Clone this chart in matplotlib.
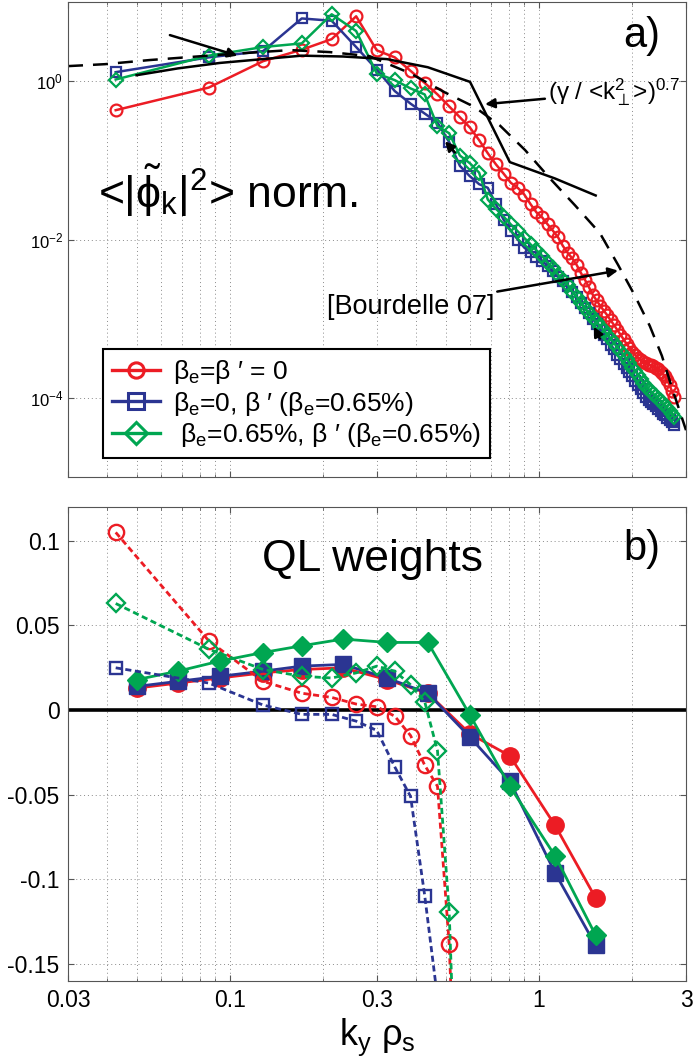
import matplotlib
matplotlib.use("Agg")
import matplotlib.pyplot as plt
from matplotlib.ticker import FixedLocator, NullFormatter, LogFormatterSciNotation, NullLocator

plt.rcParams["font.family"] = ["Liberation Sans", "DejaVu Sans"]
plt.rcParams["mathtext.fontset"] = "custom"
plt.rcParams["mathtext.rm"] = "Liberation Sans"
plt.rcParams["mathtext.it"] = "Liberation Sans"
plt.rcParams["mathtext.bf"] = "Liberation Sans:bold"
plt.rcParams["mathtext.fallback"] = "stixsans"
plt.rcParams["axes.unicode_minus"] = False

RED = "#EC1C24"
BLUE = "#2B3592"
GREEN = "#00A651"

# linear ky grid of the nonlinear runs
ky = [0.0428, 0.0856, 0.1284, 0.1712, 0.214, 0.2568, 0.2996, 0.3424, 0.3852, 0.428,
      0.4708, 0.5136, 0.5564, 0.5992, 0.642, 0.6848, 0.7276, 0.7704, 0.8132, 0.856,
      0.8988, 0.9416, 0.9844, 1.0272, 1.07, 1.1128, 1.1556, 1.1984, 1.2412, 1.284,
      1.3268, 1.3696, 1.4124, 1.4552, 1.498, 1.5408, 1.5836, 1.6264, 1.6692, 1.712,
      1.7548, 1.7976, 1.8404, 1.8832, 1.926, 1.9688, 2.0116, 2.0544, 2.0972, 2.14,
      2.1828, 2.2256, 2.2684, 2.3112, 2.354, 2.3968, 2.4396, 2.4824, 2.5252, 2.568,
      2.6108, 2.6536, 2.6964, 2.7392]

# panel a) normalised spectra
spec_red = [0.43, 0.83, 1.79, 2.5, 3.4, 6.6, 2.45, 2.0, 1.35, 0.95,
            0.68, 0.48, 0.35, 0.26, 0.18, 0.123, 0.089, 0.068, 0.052, 0.045,
            0.037, 0.028, 0.022, 0.019, 0.0155, 0.0129, 0.0107, 0.0083, 0.0068, 0.0058,
            0.0048, 0.0038, 0.0031, 0.0025, 0.0020, 0.0017, 0.00145, 0.00126, 0.0011, 0.00095,
            0.00083, 0.00072, 0.00063, 0.00055, 0.00048, 0.00043, 0.00038, 0.00035, 0.00032, 0.00030,
            0.00028, 0.000275, 0.00026, 0.000257, 0.00025, 0.00024, 0.00023, 0.000214, 0.0002, 0.000186,
            0.000166, 0.000145, 0.000123, 0.000102]
spec_blue = [1.3, 2.0, 2.4, 6.2, 5.8, 2.7, 1.4, 0.75, 0.52, 0.39,
             0.30, 0.17, 0.085, 0.063, 0.05, 0.045, 0.028, 0.0178, 0.0129, 0.010,
             0.0079, 0.0069, 0.0061, 0.0054, 0.0046, 0.0040, 0.0034, 0.0030, 0.0026, 0.0022,
             0.0019, 0.0016, 0.00135, 0.00117, 0.0010, 0.00085, 0.00072, 0.00063, 0.00055, 0.00047,
             0.00041, 0.00035, 0.00031, 0.00027, 0.00024, 0.00021, 0.000186, 0.000162, 0.000145, 0.000129,
             0.000115, 0.000102, 0.000095, 0.000089, 0.000083, 0.000078, 0.000072, 0.000068, 0.000063, 0.00006,
             0.000056, 0.000052, 0.000049, 0.000045]
spec_green = [1.05, 2.1, 2.7, 3.0, 7.0, 4.3, 1.25, 1.03, 0.81, 0.68,
              0.27, 0.22, 0.115, 0.092, 0.07, 0.032, 0.0245, 0.0195, 0.0155, 0.0127,
              0.0105, 0.0087, 0.0073, 0.0062, 0.0051, 0.0044, 0.0036, 0.0031, 0.0027, 0.0022,
              0.0019, 0.0016, 0.00135, 0.00117, 0.00102, 0.00091, 0.00079, 0.00071, 0.00063, 0.00056,
              0.00049, 0.00044, 0.00039, 0.00035, 0.00031, 0.000275, 0.00024, 0.00022, 0.000195, 0.000174,
              0.000155, 0.000138, 0.000129, 0.00012, 0.000112, 0.000105, 0.000098, 0.000091, 0.000085, 0.000079,
              0.000074, 0.000069, 0.000063, 0.000058]

# quasi-linear runs
ky_ql = [0.050, 0.068, 0.093, 0.128, 0.171, 0.233, 0.323, 0.438, 0.600, 0.807, 1.130, 1.530]
gamma_model = [1.19, 1.45, 1.7, 1.9, 2.1, 2.05, 1.9, 1.5, 0.98, 0.095, 0.059, 0.036]

ky_bourdelle = [0.030, 0.0395, 0.0552, 0.100, 0.157, 0.211, 0.284, 0.384, 0.498, 0.622,
                0.750, 0.904, 1.089, 1.312, 1.58, 1.807, 2.05, 2.29, 2.506, 2.70, 3.0]
bourdelle = [1.55, 1.64, 1.85, 2.2, 2.47, 2.33, 2.07, 1.26, 0.72, 0.47,
             0.275, 0.135, 0.059, 0.027, 0.012, 0.0048, 0.00195, 0.00081, 0.00034, 0.000135, 0.000039]

# panel b) QL weights, linear runs (solid) and nonlinear (dashed)
ql_red = [0.013, 0.016, 0.019, 0.022, 0.024, 0.025, 0.018, 0.010, -0.014, -0.027, -0.068, -0.111]
ql_blue = [0.014, 0.017, 0.020, 0.023, 0.026, 0.027, 0.019, 0.010, -0.016, -0.042, -0.096, -0.139]
ql_green = [0.018, 0.023, 0.029, 0.034, 0.038, 0.042, 0.040, 0.040, -0.003, -0.045, -0.086, -0.133]

nl_red = [0.105, 0.041, 0.017, 0.010, 0.0075, 0.0036, 0.002, -0.0036, -0.015, -0.0325, -0.045, -0.138, -0.30]
nl_blue = [0.025, 0.016, 0.003, -0.0025, -0.0025, -0.0065, -0.012, -0.0335, -0.051, -0.1095, -0.17]
nl_green = [0.063, 0.036, 0.024, 0.020, 0.019, 0.022, 0.026, 0.023, 0.015, 0.005, -0.024, -0.119, -0.30]

legend_labels = [r"β$_e$=β ′ = 0",
                 r"β$_e$=0, β ′ (β$_e$=0.65%)",
                 r" β$_e$=0.65%, β ′ (β$_e$=0.65%)"]

x_ticks = [0.03, 0.1, 0.3, 1, 3]
x_tick_labels = ["0.03", "0.1", "0.3", "1", "3"]
ql_ticks = [-0.15, -0.1, -0.05, 0, 0.05, 0.1]
ql_tick_labels = ["-0.15", "-0.1", "-0.05", "0", "0.05", "0.1"]

SPINE = "#555555"
GRID = dict(color="#8a8a8a", linestyle=(0, (1, 3)), linewidth=0.7)


def style_axis(ax):
    ax.set_xscale("log")
    ax.set_xlim(0.03, 3)
    ax.xaxis.set_major_locator(FixedLocator(x_ticks))
    ax.grid(True, which="major", **GRID)
    ax.grid(True, which="minor", axis="x", **GRID)
    ax.tick_params(which="both", direction="in", top=True, right=True, color=SPINE)
    ax.tick_params(which="major", length=4)
    ax.tick_params(which="minor", length=2)
    for spine in ax.spines.values():
        spine.set_color(SPINE)
        spine.set_linewidth(0.8)
    ax.set_axisbelow(True)


fig = plt.figure(figsize=(6.94, 10.64), dpi=100)
ax_top = fig.add_axes([0.098, 0.5517, 0.8905, 0.4464])
ax_bot = fig.add_axes([0.098, 0.078, 0.8905, 0.4455])

# ---- panel a)
style_axis(ax_top)
ax_top.set_yscale("log")
ax_top.set_ylim(1e-5, 10)
ax_top.yaxis.set_major_locator(FixedLocator([1e-4, 1e-2, 1]))
ax_top.yaxis.set_major_formatter(LogFormatterSciNotation())
ax_top.yaxis.set_minor_locator(NullLocator())
ax_top.xaxis.set_major_formatter(NullFormatter())
ax_top.xaxis.set_minor_formatter(NullFormatter())
ax_top.tick_params(axis="y", labelsize=12)

line_kw = dict(linewidth=1.8, markeredgewidth=1.6, markerfacecolor="none")
h_red, = ax_top.plot(ky, spec_red, "-o", color=RED, markersize=8.5, **line_kw)
h_blue, = ax_top.plot(ky, spec_blue, "-s", color=BLUE, markersize=6.5, **line_kw)
h_green, = ax_top.plot(ky, spec_green, "-D", color=GREEN, markersize=7.5, **line_kw)
ax_top.plot(ky_ql, gamma_model, "-", color="black", linewidth=1.8)
ax_top.plot(ky_bourdelle, bourdelle, color="black", linewidth=1.8, dashes=(6, 4))

arrow = dict(arrowstyle="-|>", color="black", lw=1.8, mutation_scale=14, shrinkA=0, shrinkB=0)
ax_top.annotate("", xy=(0.106, 2.1), xytext=(0.0641, 3.82), arrowprops=arrow)
ax_top.annotate(r"(γ / <k$^2_\perp$>)$^{0.7}$", xy=(0.671, 0.512), xytext=(1.07, 0.72),
                fontsize=17.5, va="center", ha="left", arrowprops=arrow)
ax_top.annotate("[Bourdelle 07]", xy=(1.807, 0.00405), xytext=(0.72, 0.00142),
                fontsize=19.5, va="center", ha="right", arrowprops=arrow)
ax_top.annotate("", xy=(0.498, 0.174), xytext=(0.536, 0.126), arrowprops=arrow)
ax_top.annotate("", xy=(1.51, 0.00079), xytext=(1.58, 0.00056), arrowprops=arrow)

ax_top.text(0.0485, 0.566, r"<|$\tilde{\phi}_k$|$^2$> norm.", transform=ax_top.transAxes,
            fontsize=32, ha="left", va="baseline")
ax_top.text(0.958, 0.906, "a)", transform=ax_top.transAxes, fontsize=30,
            ha="right", va="baseline")

leg = ax_top.legend([h_red, h_blue, h_green], legend_labels, loc="lower left",
                    bbox_to_anchor=(0.057, 0.04), borderaxespad=0, fontsize=19,
                    handlelength=1.8, handletextpad=0.5, labelspacing=0.12, borderpad=0.35,
                    fancybox=False, framealpha=1, edgecolor="black")
leg.get_frame().set_linewidth(1.5)
for handle in leg.legend_handles:
    handle.set_linewidth(2.4)
    handle.set_markersize(11)
    handle.set_markeredgewidth(2.2)

# ---- panel b)
style_axis(ax_bot)
ax_bot.set_ylim(-0.16, 0.12)
ax_bot.yaxis.set_major_locator(FixedLocator(ql_ticks))
ax_bot.set_yticklabels(ql_tick_labels)
ax_bot.set_xticklabels(x_tick_labels)
ax_bot.xaxis.set_minor_formatter(NullFormatter())
ax_bot.tick_params(axis="both", which="major", labelsize=16.5, pad=6)
ax_bot.axhline(0, color="black", linewidth=2.6, zorder=1.5)

solid_kw = dict(linewidth=2.0, markeredgewidth=1.0)
ax_bot.plot(ky_ql, ql_red, "-o", color=RED, markersize=12.5, **solid_kw)
ax_bot.plot(ky_ql, ql_blue, "-s", color=BLUE, markersize=11, **solid_kw)
ax_bot.plot(ky_ql, ql_green, "-D", color=GREEN, markersize=10.5, **solid_kw)

dash_kw = dict(linewidth=2.0, markeredgewidth=1.7, markerfacecolor="none", dashes=(2.2, 1.3))
ax_bot.plot(ky[:len(nl_red)], nl_red, "o", linestyle="--", color=RED, markersize=11, **dash_kw)
ax_bot.plot(ky[:len(nl_blue)], nl_blue, "s", linestyle="--", color=BLUE, markersize=9, **dash_kw)
ax_bot.plot(ky[:len(nl_green)], nl_green, "D", linestyle="--", color=GREEN, markersize=9.5, **dash_kw)

ax_bot.text(0.314, 0.866, "QL weights", transform=ax_bot.transAxes, fontsize=32,
            ha="left", va="baseline")
ax_bot.text(0.958, 0.888, "b)", transform=ax_bot.transAxes, fontsize=30,
            ha="right", va="baseline")
ax_bot.set_xlabel(r"k$_y$ ρ$_s$", fontsize=26, labelpad=3)

fig.savefig("out.png", dpi=100)
